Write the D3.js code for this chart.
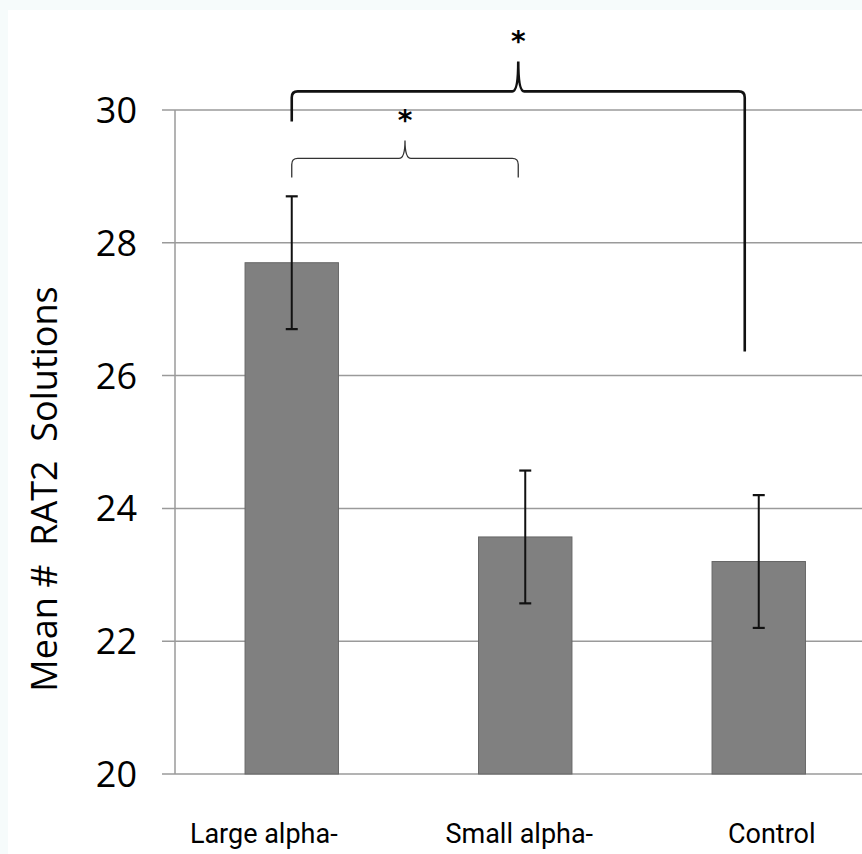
<!DOCTYPE html>
<html><head><meta charset="utf-8">
<script src="https://cdn.jsdelivr.net/npm/d3@7"></script>
<style>body{margin:0;background:#fff}svg{display:block}</style>
</head><body>
<svg id="c" width="862" height="854"></svg>
<script>
const categories = ["Large alpha-", "Small alpha-", "Control"];
const means = [27.7, 23.57, 23.2];
const errors = [1.0, 1.0, 1.0];
const yTicks = [20, 22, 24, 26, 28, 30];
const yLabel = "Mean #  RAT2  Solutions";
// significance brackets between categories
const brackets = [
  {from: 0, to: 1, level: 29.27, label: "*"},
  {from: 0, to: 2, level: 30.28, label: "*"}
];

const svg = d3.select("#c");
svg.append("rect").attr("width", 862).attr("height", 854).attr("fill", "#f6fbfb");
svg.append("rect").attr("x", 8).attr("y", 10).attr("width", 854).attr("height", 844).attr("fill", "#fff");

const x = d3.scaleBand().domain(categories).range([175, 875.5]).paddingInner(0.6).paddingOuter(0.3);
const y = d3.scaleLinear().domain([20, 30]).range([774, 110]);
const cx = c => x(c) + x.bandwidth() / 2;

// gridlines
svg.append("g").selectAll("line").data(yTicks).join("line")
  .attr("x1", 162).attr("x2", 862)
  .attr("y1", d => y(d)).attr("y2", d => y(d))
  .attr("stroke", "#9a9a9a").attr("stroke-width", 1.5);

// y axis line
svg.append("line").attr("x1", 175).attr("x2", 175).attr("y1", y(30)).attr("y2", y(20))
  .attr("stroke", "#9a9a9a").attr("stroke-width", 1.5);

// tick labels
svg.append("g").selectAll("text").data(yTicks).join("text")
  .attr("x", 137).attr("y", d => y(d)).attr("dy", "0.36em")
  .attr("text-anchor", "end")
  .attr("font-family", "Open Sans, sans-serif").attr("font-size", 36)
  .attr("fill", "#000").text(d => d);

// y label
svg.append("text")
  .attr("transform", `translate(57,489) rotate(-90)`)
  .attr("text-anchor", "middle")
  .style("white-space", "pre")
  .attr("font-family", "Open Sans, sans-serif").attr("font-size", 36)
  .attr("fill", "#000").text(yLabel);

// bars
svg.append("g").selectAll("rect").data(categories).join("rect")
  .attr("x", d => x(d)).attr("width", x.bandwidth())
  .attr("y", (d, i) => y(means[i])).attr("height", (d, i) => y(20) - y(means[i]))
  .attr("fill", "#808080").attr("stroke", "#666").attr("stroke-width", 1);

// error bars
const eb = svg.append("g").attr("stroke", "#111").attr("stroke-width", 2);
categories.forEach((c, i) => {
  const lo = y(means[i] - errors[i]), hi = y(means[i] + errors[i]);
  eb.append("line").attr("x1", cx(c)).attr("x2", cx(c)).attr("y1", lo).attr("y2", hi);
  eb.append("line").attr("x1", cx(c) - 6).attr("x2", cx(c) + 6).attr("y1", lo).attr("y2", lo).attr("stroke-width", 2.2);
  eb.append("line").attr("x1", cx(c) - 6).attr("x2", cx(c) + 6).attr("y1", hi).attr("y2", hi).attr("stroke-width", 2.2);
});

// category labels (slightly shifted, as in the original layout)
const shift = [-28, -6, 13];
svg.append("g").selectAll("text").data(categories).join("text")
  .attr("x", (d, i) => cx(d) + shift[i]).attr("y", 843)
  .attr("text-anchor", "middle")
  .attr("font-family", "Roboto, sans-serif").attr("font-size", 27)
  .attr("fill", "#000").text(d => d);

// brackets
const bracketStyle = [
  {inset: 7, legL: 19, legR: 19, peak: 18, w: 1.3, col: "#333"},
  {inset: 14, legL: 30, legR: 260, peak: 30, w: 2.6, col: "#111"}
];
brackets.forEach((b, k) => {
  const s = bracketStyle[k];
  const x1 = cx(categories[b.from]);
  const x2 = cx(categories[b.to]) - s.inset;
  const xm = (x1 + x2) / 2;
  const yy = y(b.level);
  const r = 6;
  const p = d3.path();
  p.moveTo(x1, yy + s.legL);
  p.lineTo(x1, yy + r);
  p.quadraticCurveTo(x1, yy, x1 + r, yy);
  p.lineTo(xm - r, yy);
  p.quadraticCurveTo(xm, yy, xm, yy - s.peak);
  p.moveTo(xm, yy - s.peak);
  p.quadraticCurveTo(xm, yy, xm + r, yy);
  p.lineTo(x2 - r, yy);
  p.quadraticCurveTo(x2, yy, x2, yy + r);
  p.lineTo(x2, yy + s.legR);
  svg.append("path").attr("d", p.toString()).attr("fill", "none")
    .attr("stroke", s.col).attr("stroke-width", s.w);
  svg.append("text").attr("x", xm).attr("y", yy - s.peak - 10)
    .attr("text-anchor", "middle").attr("font-family", "DejaVu Sans, sans-serif")
    .attr("font-weight", "bold")
    .attr("font-size", 28).attr("fill", "#000").text(b.label);
});
</script>
</body></html>
